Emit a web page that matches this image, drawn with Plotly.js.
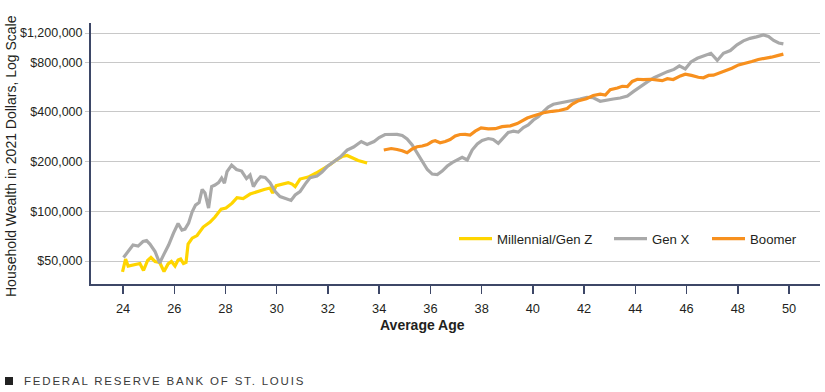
<!DOCTYPE html>
<html>
<head>
<meta charset="utf-8">
<script src="https://cdn.plot.ly/plotly-3.0.1.min.js"></script>
<style>
  html, body { margin: 0; padding: 0; background: #fff; }
  #wrap { position: relative; width: 825px; height: 392px; }
  #chart { width: 825px; height: 392px; }
  #footer { position: absolute; left: 5px; top: 375px; font-family: "Liberation Sans", Arial, sans-serif;
            font-size: 11.5px; letter-spacing: 1.8px; color: #3a3a3a; white-space: nowrap; }
  #footer .sq { display: inline-block; width: 8px; height: 8px; background: #222; margin-right: 11px; vertical-align: 0px; }
</style>
</head>
<body>
<div id="wrap">
  <div id="chart"></div>
  <div id="footer"><span class="sq"></span>FEDERAL RESERVE BANK OF ST. LOUIS</div>
</div>
<script>
const seriesNames = ["Millennial/Gen Z", "Gen X", "Boomer"];

const millAge = [23.98,24.10,24.20,24.35,24.55,24.66,24.80,24.96,25.09,25.25,25.43,25.60,25.76,25.89,26.03,26.15,26.25,26.36,26.46,26.54,26.70,26.89,27.13,27.40,27.59,27.83,28.02,28.26,28.45,28.69,28.96,29.23,29.51,29.74,29.84,29.98,30.21,30.45,30.60,30.72,30.91,31.23,31.54,31.81,32.09,32.32,32.55,32.75,32.95,33.18,33.53];
const millWealth = [42900,51400,46600,47000,48000,48300,43800,50400,52500,49700,49000,43200,48000,49700,46600,50700,51400,48300,49000,63300,68800,71300,80300,86000,92300,103100,104600,112000,121000,119500,127200,131700,135600,138300,129000,143000,146200,149200,146200,141200,156800,161200,170500,180300,192000,204400,214600,217700,210200,203000,196000];

const genxAge = [24.02,24.20,24.39,24.59,24.78,24.92,25.05,25.25,25.43,25.58,25.78,25.97,26.15,26.30,26.42,26.56,26.70,26.83,26.97,27.09,27.20,27.34,27.46,27.59,27.73,27.85,27.96,28.06,28.24,28.43,28.63,28.82,28.96,29.09,29.22,29.37,29.55,29.74,29.94,30.13,30.33,30.56,30.72,30.91,31.11,31.30,31.57,31.77,31.97,32.21,32.48,32.75,33.00,33.30,33.53,33.80,34.00,34.23,34.47,34.70,34.90,35.09,35.29,35.48,35.68,35.88,36.07,36.27,36.46,36.66,36.85,37.05,37.24,37.44,37.63,37.83,38.02,38.26,38.45,38.65,38.85,39.04,39.24,39.43,39.63,39.82,40.02,40.21,40.41,40.60,40.80,41.07,41.34,41.58,41.84,42.11,42.36,42.63,42.91,43.14,43.41,43.69,43.92,44.20,44.47,44.73,44.98,45.25,45.51,45.72,45.95,46.17,46.42,46.66,46.95,47.20,47.44,47.71,47.97,48.22,48.48,48.73,49.00,49.20,49.40,49.60,49.78];
const genxWealth = [52500,57100,62500,61600,65600,66500,63300,57100,48600,54300,62500,73800,84400,77000,78000,84800,99300,109100,112900,135800,129000,104600,141200,144200,149200,159000,148200,174100,190600,179100,175300,157900,165800,141200,152400,161900,160200,149200,131700,122800,119800,116400,125500,131700,146200,159600,163500,172900,186700,199600,213000,235000,245000,264600,253800,264600,279800,291800,293800,292600,287700,274000,252000,224700,201600,179100,168100,166900,175300,188000,197300,205900,212000,204400,235000,255600,268300,275900,272000,257800,279800,300100,305900,301700,321600,333200,357300,374000,401100,428400,444900,453000,464000,468000,479000,490700,487400,464000,474400,479000,485800,499500,530400,570600,607400,644000,674400,701400,723300,759500,728300,803000,845000,873000,906000,820000,906000,941000,1020000,1077000,1116000,1139000,1171000,1146000,1084000,1046000,1033000];

const boomAge = [34.18,34.47,34.70,34.90,35.09,35.29,35.48,35.68,35.88,36.07,36.19,36.38,36.58,36.77,36.97,37.16,37.36,37.55,37.75,37.98,38.26,38.53,38.80,39.12,39.39,39.59,39.78,39.98,40.23,40.48,40.76,41.03,41.34,41.54,41.79,42.09,42.36,42.63,42.83,43.02,43.30,43.49,43.69,43.88,44.08,44.31,44.59,44.86,45.05,45.25,45.48,45.76,45.95,46.19,46.46,46.66,46.86,47.05,47.25,47.52,47.77,48.03,48.30,48.55,48.80,49.08,49.31,49.55,49.78];
const boomWealth = [235000,240000,236700,232800,226400,238400,246100,248500,253800,264600,267600,260300,264600,272000,285700,291800,292600,289700,305900,320000,315600,316500,325600,329300,339600,353800,367400,376200,388500,397800,403400,408000,419500,446700,468000,480400,503000,512000,506600,545500,558600,572000,568800,611700,630700,627300,630700,624600,618600,635900,628200,660500,677300,665200,648600,644000,665200,668000,685000,710000,735500,770000,786700,808600,830700,842400,858000,876400,895000];

const xTickVals = [24,26,28,30,32,34,36,38,40,42,44,46,48,50];
const yTickVals = [50000,100000,200000,400000,800000,1200000];
const yTickText = ["$50,000","$100,000","$200,000","$400,000","$800,000","$1,200,000"];

const FONT = '"Liberation Sans", Arial, sans-serif';
const NAVY = '#3d4767';

const traces = [
  {x: millAge, y: millWealth, name: seriesNames[0], mode: 'lines', line: {color: '#FFD500', width: 3.2}, legend: 'legend'},
  {x: genxAge, y: genxWealth, name: seriesNames[1], mode: 'lines', line: {color: '#A9A9A9', width: 3.2}, legend: 'legend2'},
  {x: boomAge, y: boomWealth, name: seriesNames[2], mode: 'lines', line: {color: '#F7901E', width: 3.2}, legend: 'legend3'}
];

function legendAt(px) {
  return {orientation: 'h', x: (px - 91) / 729, xanchor: 'left', y: 0.172, yanchor: 'middle',
          bgcolor: 'rgba(0,0,0,0)', itemwidth: 33,
          font: {family: FONT, size: 13.2, color: '#231f20'}};
}

const layout = {
  width: 825, height: 392,
  margin: {l: 91, r: 5, t: 23, b: 108},
  paper_bgcolor: '#fff', plot_bgcolor: '#fff',
  font: {family: FONT, size: 12.5, color: '#231f20'},
  showlegend: true,
  legend: legendAt(454),
  legend2: legendAt(609),
  legend3: legendAt(707),
  xaxis: {
    range: [22.75, 51.21], tickvals: xTickVals, ticks: 'outside', ticklen: 8, tickwidth: 1.5,
    tickcolor: NAVY, showline: true, linecolor: NAVY, linewidth: 2, showgrid: false, zeroline: false,
    tickfont: {family: FONT, size: 12.8, color: '#231f20'}, ticklabelstandoff: 4
  },
  yaxis: {
    type: 'log', range: [4.5597, 6.1405], tickvals: yTickVals, ticktext: yTickText,
    ticks: 'outside', ticklen: 4, tickcolor: '#c8c8c8', showline: true, linecolor: NAVY, linewidth: 2,
    showgrid: true, gridcolor: '#c8c8c8', gridwidth: 1, zeroline: false,
    tickfont: {family: FONT, size: 12.5, color: '#231f20'}
  },
  shapes: [
    {type: 'line', xref: 'paper', x0: 0, x1: 1, yref: 'y', y0: Math.log10(800000), y1: Math.log10(800000),
     line: {color: '#e2e2e2', width: 2}, layer: 'below'}
  ],
  annotations: [
    {text: 'Average Age', xref: 'paper', yref: 'paper', x: (422 - 91) / 729, y: (284 - 325) / 261,
     xanchor: 'center', yanchor: 'middle', showarrow: false,
     font: {family: FONT, size: 14, color: '#231f20', weight: 'bold'}},
    {text: 'Household Wealth in 2021 Dollars, Log Scale', xref: 'paper', yref: 'paper',
     x: (11 - 91) / 729, y: (284 - 156) / 261, xanchor: 'center', yanchor: 'middle', textangle: -90,
     showarrow: false, font: {family: FONT, size: 14, color: '#231f20'}}
  ],
  hovermode: false
};

Plotly.newPlot('chart', traces, layout, {displayModeBar: false, staticPlot: true});
</script>
</body>
</html>
